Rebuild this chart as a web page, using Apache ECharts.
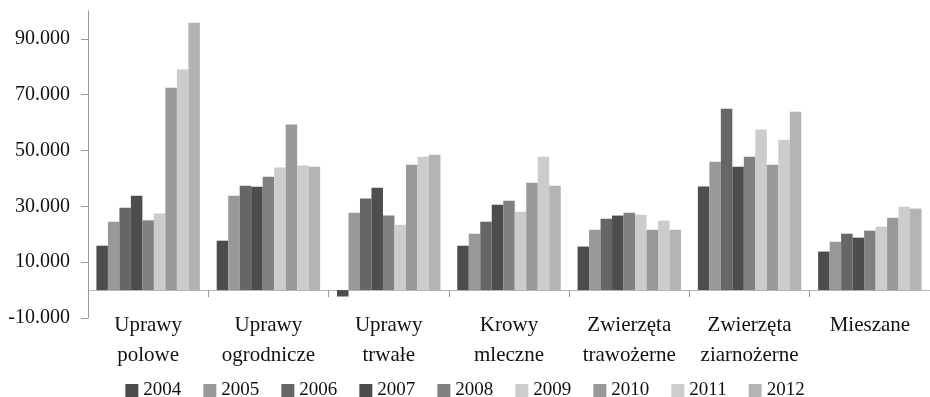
<!DOCTYPE html>
<html>
<head>
<meta charset="utf-8">
<script src="https://cdn.jsdelivr.net/npm/echarts@6/dist/echarts.min.js"></script>
<style>
  html, body { margin: 0; padding: 0; background: #fff; }
  #chart { width: 930px; height: 397px; }
</style>
</head>
<body>
<div id="chart"></div>
<script>
// Farm types (x axis) and years (series)
const categories = [
  'Uprawy\npolowe', 'Uprawy\nogrodnicze', 'Uprawy\ntrwałe', 'Krowy\nmleczne',
  'Zwierzęta\ntrawożerne', 'Zwierzęta\nziarnożerne', 'Mieszane'
];
const years = ['2004', '2005', '2006', '2007', '2008', '2009', '2010', '2011', '2012'];

// Values per year, one entry per farm type
const v2004 = [15900, 17700, -2300, 15900, 15600, 37100, 13800];
const v2005 = [24500, 33800, 27700, 20200, 21600, 46000, 17300];
const v2006 = [29500, 37400, 32800, 24500, 25600, 65000, 20200];
const v2007 = [33800, 37000, 36700, 30600, 26700, 44200, 18800];
const v2008 = [25000, 40600, 26700, 32000, 27700, 47800, 21300];
const v2009 = [27400, 43900, 23400, 28100, 27000, 57500, 22700];
const v2010 = [72500, 59300, 44900, 38500, 21600, 44900, 25900];
const v2011 = [79000, 44600, 47800, 47800, 24900, 53900, 29900];
const v2012 = [95800, 44200, 48500, 37400, 21600, 63900, 29200];

// Value axis tick labels
const yTicks = [-10000, 10000, 30000, 50000, 70000, 90000];

const seriesValues = [v2004, v2005, v2006, v2007, v2008, v2009, v2010, v2011, v2012];
const colors = ['#4d4d4d', '#999999', '#666666', '#4d4d4d', '#808080', '#cccccc', '#999999', '#cccccc', '#b3b3b3'];

const FONT = '"Liberation Serif", "Times New Roman", serif';

function fmt(v) {
  const s = Math.abs(v).toString().replace(/\B(?=(\d{3})+(?!\d))/g, '.');
  return (v < 0 ? '-' : '') + s;
}

const chart = echarts.init(document.getElementById('chart'), null, { renderer: 'canvas' });

chart.setOption({
  animation: false,
  backgroundColor: '#ffffff',
  color: colors,
  grid: { left: 88, top: 11, width: 846, height: 307, containLabel: false },
  legend: {
    data: years,
    top: 376,
    left: 'center',
    icon: 'rect',
    itemWidth: 13,
    itemHeight: 13,
    itemGap: 22,
    textStyle: { fontFamily: FONT, fontSize: 19, color: '#111' }
  },
  xAxis: {
    type: 'category',
    data: categories,
    boundaryGap: true,
    axisLine: { onZero: true, lineStyle: { color: '#b8b8b8', width: 1 } },
    axisTick: { show: true, length: 7, lineStyle: { color: '#999999' } },
    axisLabel: {
      interval: 0,
      margin: -8,
      fontFamily: FONT,
      fontSize: 21,
      lineHeight: 30,
      color: '#111'
    },
    splitLine: { show: false }
  },
  yAxis: {
    type: 'value',
    min: -10000,
    max: 100000,
    axisLine: { show: true, lineStyle: { color: '#999999' } },
    axisTick: { show: true, length: 7, customValues: yTicks, lineStyle: { color: '#999999' } },
    axisLabel: {
      customValues: yTicks,
      margin: 18,
      fontFamily: FONT,
      fontSize: 20,
      color: '#111',
      formatter: fmt
    },
    splitLine: { show: false }
  },
  series: years.map((y, i) => ({
    name: y,
    type: 'bar',
    data: seriesValues[i],
    barGap: '0%',
    barCategoryGap: '14%',
    itemStyle: { color: colors[i] }
  }))
});
</script>
</body>
</html>
